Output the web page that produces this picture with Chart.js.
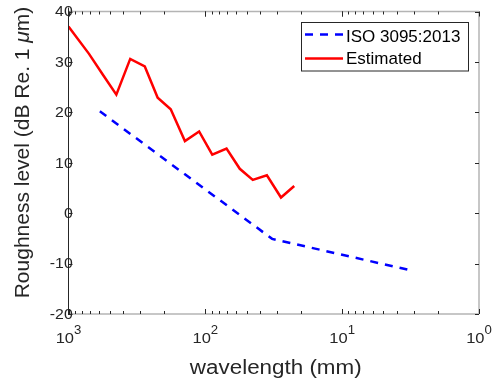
<!DOCTYPE html>
<html>
<head>
<meta charset="utf-8">
<script src="https://cdn.jsdelivr.net/npm/chart.js@4.4.0/dist/chart.umd.min.js"></script>
<style>
  html, body { margin: 0; padding: 0; background: #fff; }
  canvas { display: block; }
</style>
</head>
<body>
<canvas id="roughness" width="493" height="383"></canvas>
<script>
// wavelength in mm, roughness level in dB re 1 um
const estWavelength = [1000, 708, 562, 447, 354, 277, 223, 179, 141, 111, 89, 70, 56, 45, 35.5, 28, 22.4];
const estLevel = [37.0, 31.6, 27.5, 23.5, 30.6, 29.1, 22.9, 20.6, 14.3, 16.2, 11.6, 12.8, 8.8, 6.6, 7.5, 3.1, 5.4];
const isoWavelength = [590, 32.5, 3.2];
const isoLevel = [20.2, -5.1, -11.3];

const yTicks = [40, 30, 20, 10, 0, -10, -20];
const xDecades = [1000, 100, 10, 1];
const xDecadeExp = ['3', '2', '1', '0'];

const ink = '#262626';
const font = '"Liberation Sans", Arial, sans-serif';

const toPoints = (xs, ys) => xs.map((x, i) => ({ x, y: ys[i] }));

// stretched text helper (axis labels are a bit wider than the font)
function drawText(ctx, text, x, y, size, align, sx) {
  ctx.save();
  ctx.translate(x, y);
  ctx.scale(sx, 1);
  ctx.font = size + 'px ' + font;
  ctx.textAlign = align;
  ctx.fillText(text, 0, 0);
  ctx.restore();
}

// box, inward ticks and tick labels
const axesPlugin = {
  id: 'axesBox',
  afterDatasetsDraw(chart) {
    const ctx = chart.ctx;
    const { left, right, top, bottom } = chart.chartArea;
    const xs = chart.scales.x, ys = chart.scales.y;
    const seg = (x1, y1, x2, y2) => { ctx.beginPath(); ctx.moveTo(x1, y1); ctx.lineTo(x2, y2); ctx.stroke(); };

    ctx.save();
    ctx.strokeStyle = '#b4b4b4';
    ctx.lineWidth = 1.5;
    seg(left, top, right, top);
    seg(left, bottom, right, bottom);
    seg(right, top, right, bottom);

    ctx.strokeStyle = ink;
    ctx.lineWidth = 1;
    seg(left, top - 4, left, bottom + 1);

    // log ticks along top and bottom
    for (let n = 0; n < 3; n++) {
      for (let m = 1; m <= 10; m++) {
        const v = m * Math.pow(10, n);
        const px = Math.round(xs.getPixelForValue(v)) + 0.5;
        const len = (m === 1 || m === 10) ? 5 : 3;
        seg(px, bottom, px, bottom - len);
        seg(px, top, px, top + len);
      }
    }
    // y ticks on both sides
    yTicks.forEach(v => {
      const py = Math.round(ys.getPixelForValue(v)) + 0.5;
      seg(right, py, right - 4, py);
      seg(left, py, left + 4, py);
    });

    ctx.fillStyle = ink;
    ctx.textBaseline = 'middle';
    yTicks.forEach(v => {
      drawText(ctx, String(v), 72.7, ys.getPixelForValue(v) + 1, 14, 'right', 1.13);
    });

    ctx.textBaseline = 'alphabetic';
    xDecades.forEach((v, i) => {
      const px = xs.getPixelForValue(v);
      ctx.font = '15px ' + font;
      const wMain = ctx.measureText('10').width * 1.1;
      ctx.font = '12px ' + font;
      const wSup = ctx.measureText(xDecadeExp[i]).width * 1.1;
      const x0 = px - (wMain + wSup) / 2;
      drawText(ctx, '10', x0, 343.3, 15, 'left', 1.1);
      drawText(ctx, xDecadeExp[i], x0 + wMain, 333.5, 12, 'left', 1.1);
    });

    // axis titles
    drawText(ctx, 'wavelength (mm)', (left + right) / 2 + 2, 374.3, 20, 'center', 1.12);

    // y title, with an italic mu
    const parts = [
      { t: 'Roughness level (dB Re. 1 ', f: '21px ' + font },
      { t: '\u03bc', f: 'italic 21px ' + font },
      { t: 'm)', f: '21px ' + font }
    ];
    ctx.save();
    ctx.translate(28.5, 152.5);
    ctx.rotate(-Math.PI / 2);
    ctx.textAlign = 'left';
    let total = 0;
    parts.forEach(p => { ctx.font = p.f; p.w = ctx.measureText(p.t).width; total += p.w; });
    let cx = -total / 2;
    parts.forEach(p => { ctx.font = p.f; ctx.fillText(p.t, cx, 0); cx += p.w; });
    ctx.restore();
    ctx.restore();
  }
};

// boxed legend in the upper right corner
const legendPlugin = {
  id: 'boxLegend',
  afterDraw(chart) {
    const ctx = chart.ctx;
    const rows = [chart.data.datasets[0], chart.data.datasets[1]];
    ctx.save();
    ctx.fillStyle = '#fff';
    ctx.fillRect(301.5, 22.5, 167, 48.5);
    ctx.strokeStyle = ink;
    ctx.lineWidth = 1;
    ctx.strokeRect(301.5, 22.5, 167, 48.5);
    rows.forEach((ds, i) => {
      const y = 34.5 + i * 24;
      ctx.strokeStyle = ds.borderColor;
      ctx.lineWidth = ds.borderWidth;
      ctx.setLineDash(ds.borderDash || []);
      ctx.beginPath();
      ctx.moveTo(305, y);
      ctx.lineTo(343, y);
      ctx.stroke();
      ctx.setLineDash([]);
      ctx.fillStyle = '#000';
      ctx.font = '17px ' + font;
      ctx.textAlign = 'left';
      ctx.textBaseline = 'alphabetic';
      ctx.fillText(ds.label, 346, 41.6 + i * 22.8);
    });
    ctx.restore();
  }
};

new Chart(document.getElementById('roughness'), {
  type: 'line',
  data: {
    datasets: [
      {
        label: 'ISO 3095:2013',
        data: toPoints(isoWavelength, isoLevel),
        borderColor: '#0000ff',
        borderWidth: 2.5,
        borderDash: [8, 7],
        pointRadius: 0,
        tension: 0
      },
      {
        label: 'Estimated',
        data: toPoints(estWavelength, estLevel),
        borderColor: '#ff0000',
        borderWidth: 2.5,
        pointRadius: 0,
        tension: 0
      }
    ]
  },
  options: {
    responsive: false,
    animation: false,
    layout: { padding: { left: 68.5, right: 14, top: 11.5, bottom: 69 } },
    plugins: {
      legend: { display: false },
      tooltip: { enabled: false }
    },
    scales: {
      x: { type: 'logarithmic', reverse: true, min: 1, max: 1000, display: false },
      y: { type: 'linear', min: -20, max: 40, display: false }
    }
  },
  plugins: [axesPlugin, legendPlugin]
});
</script>
</body>
</html>
